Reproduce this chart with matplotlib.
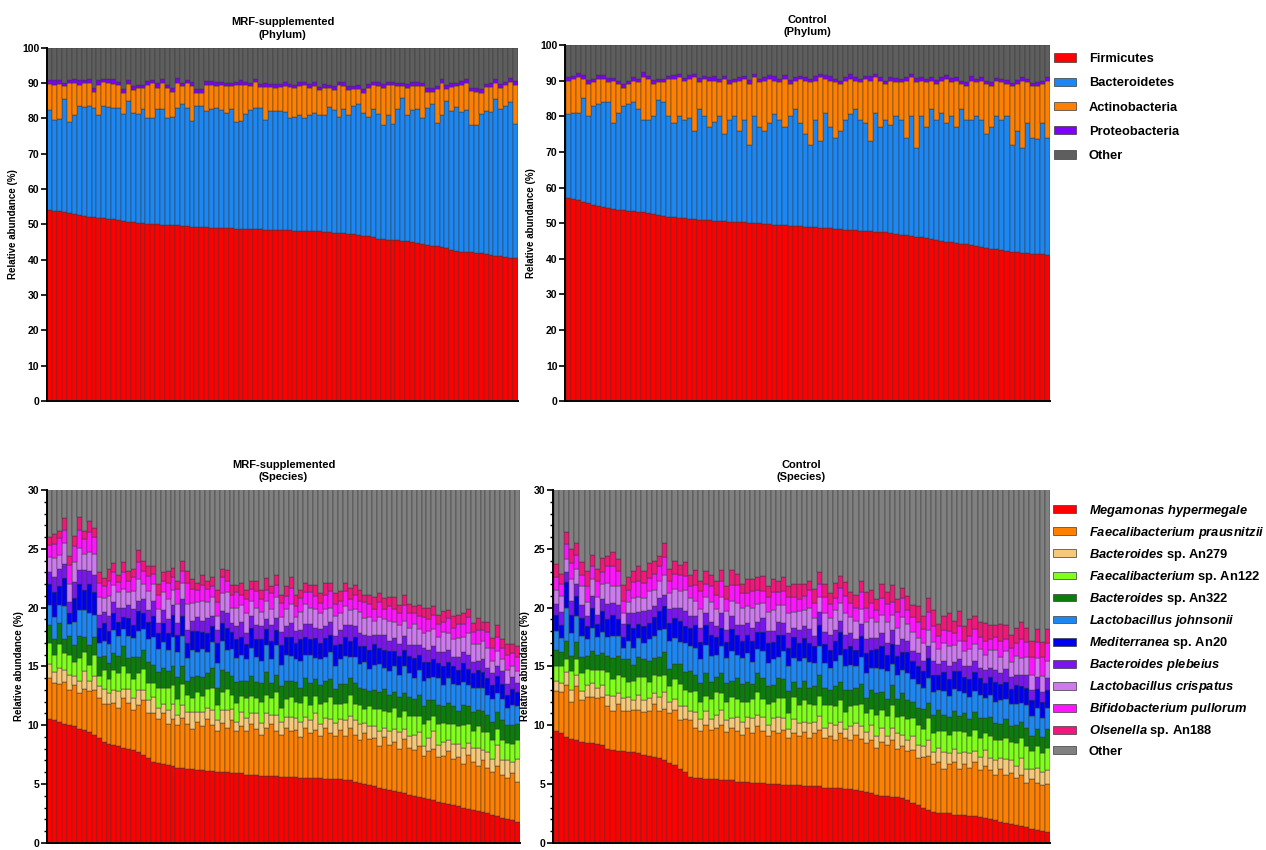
import numpy as np
import matplotlib.pyplot as plt
from matplotlib.patches import Patch
from matplotlib.ticker import MultipleLocator

plt.rcParams['font.family'] = ['Liberation Sans', 'DejaVu Sans']
plt.rcParams['font.weight'] = 'bold'
plt.rcParams['mathtext.fontset'] = 'custom'
plt.rcParams['mathtext.it'] = 'Liberation Sans:italic:bold'
plt.rcParams['mathtext.rm'] = 'Liberation Sans:bold'
plt.rcParams['mathtext.bf'] = 'Liberation Sans:bold'

PHYLA = ['Firmicutes', 'Bacteroidetes', 'Actinobacteria', 'Proteobacteria', 'Other']
PHYLUM_COLORS = ['#FF0000', '#1C86F2', '#FF8000', '#8000FF', '#5E5E5E']

SPECIES = [r'$\mathit{Megamonas\ hypermegale}$',
           r'$\mathit{Faecalibacterium\ prausnitzii}$',
           r'$\mathit{Bacteroides}$ sp. An279',
           r'$\mathit{Faecalibacterium}$ sp. An122',
           r'$\mathit{Bacteroides}$ sp. An322',
           r'$\mathit{Lactobacillus\ johnsonii}$',
           r'$\mathit{Mediterranea}$ sp. An20',
           r'$\mathit{Bacteroides\ plebeius}$',
           r'$\mathit{Lactobacillus\ crispatus}$',
           r'$\mathit{Bifidobacterium\ pullorum}$',
           r'$\mathit{Olsenella}$ sp. An188',
           'Other']
SPECIES_COLORS = ['#FF0000', '#FF8000', '#F5C87A', '#80FF1A', '#0A7D0A', '#1C86F2',
                  '#0000F0', '#7A14F0', '#CC7AEE', '#FF14FF', '#F0187A', '#808080']

# ---- phylum level, MRF-supplemented ----
MRF_FIRMICUTES = [
    54.0, 53.9, 53.7, 53.5, 53.2, 52.9, 52.6, 52.4, 52.2, 52.0,
    51.9, 51.7, 51.6, 51.4, 51.2, 51.0, 50.8, 50.6, 50.5, 50.4,
    50.2, 50.1, 50.0, 49.9, 49.8, 49.7, 49.7, 49.6, 49.5, 49.4,
    49.3, 49.3, 49.2, 49.1, 49.0, 49.0, 48.9, 48.9, 48.8, 48.8,
    48.7, 48.7, 48.6, 48.6, 48.5, 48.5, 48.4, 48.4, 48.3, 48.3,
    48.2, 48.2, 48.1, 48.1, 48.0, 48.0, 47.9, 47.8, 47.7, 47.6,
    47.5, 47.4, 47.2, 47.0, 46.8, 46.6, 46.3, 46.0, 45.8, 45.7,
    45.6, 45.5, 45.4, 45.2, 45.0, 44.8, 44.5, 44.2, 44.0, 43.8,
    43.5, 43.2, 42.9, 42.6, 42.3, 42.2, 42.1, 42.0, 41.8, 41.6,
    41.4, 41.2, 41.0, 40.8, 40.6, 40.4]
MRF_BACTEROIDETES = [
    28.3, 25.6, 26.1, 32.0, 25.8, 28.1, 30.9, 30.9, 31.3, 31.0,
    29.1, 31.8, 31.7, 31.6, 31.8, 30.3, 34.2, 30.9, 30.8, 32.1,
    29.8, 29.9, 32.5, 32.6, 30.2, 30.6, 33.3, 34.4, 33.5, 29.9,
    34.2, 34.2, 32.8, 33.4, 34.0, 33.3, 32.6, 33.6, 30.2, 30.5,
    32.6, 33.6, 34.2, 34.4, 31.0, 33.5, 33.6, 33.6, 33.5, 31.7,
    32.3, 32.8, 31.9, 32.9, 33.5, 33.0, 33.1, 35.5, 34.6, 32.7,
    35.0, 33.4, 36.3, 37.0, 34.7, 33.9, 36.2, 35.3, 32.2, 35.3,
    32.9, 37.0, 40.4, 35.8, 37.3, 37.9, 35.7, 38.6, 40.0, 35.0,
    37.5, 41.8, 39.1, 40.6, 39.5, 40.1, 36.1, 36.2, 39.4, 40.6,
    40.4, 44.3, 41.5, 42.7, 43.9, 38.1]
MRF_ACTINOBACTERIA = [
    7.5, 10.0, 10.0, 3.5, 11.0, 9.0, 6.0, 6.7, 6.5, 4.5,
    8.5, 6.7, 6.7, 6.8, 6.5, 6.0, 4.8, 6.5, 7.2, 6.0,
    9.5, 10.0, 6.2, 7.5, 8.5, 7.2, 7.0, 5.0, 7.0, 9.9,
    3.8, 3.8, 7.5, 7.0, 6.2, 7.2, 7.5, 6.5, 10.5, 10.2,
    8.0, 6.7, 7.5, 5.8, 9.3, 6.8, 6.5, 6.8, 7.2, 8.8,
    8.0, 8.0, 9.5, 7.5, 7.7, 7.0, 7.5, 5.2, 5.7, 9.2,
    6.7, 7.2, 4.7, 4.2, 5.7, 8.0, 6.8, 7.9, 10.5, 8.5,
    10.8, 6.5, 3.2, 7.5, 6.9, 6.5, 9.0, 4.7, 3.5, 9.5,
    9.0, 3.3, 6.8, 5.8, 7.7, 7.7, 9.6, 9.3, 6.0, 6.6,
    7.0, 4.5, 6.0, 6.0, 5.7, 11.0]
MRF_PROTEOBACTERIA = [
    1.0, 1.2, 0.9, 1.1, 0.8, 1.0, 1.2, 0.9, 1.1, 1.0,
    1.3, 0.9, 1.0, 1.2, 0.8, 1.1, 1.0, 1.2, 0.9, 1.0,
    1.1, 0.8, 1.2, 1.0, 0.9, 1.1, 1.3, 1.0, 0.8, 1.2,
    1.0, 0.9, 1.1, 1.0, 1.2, 0.8, 1.0, 1.1, 0.9, 1.2,
    1.0, 1.1, 0.8, 1.0, 1.2, 0.9, 1.1, 1.0, 1.3, 0.9,
    1.0, 1.2, 0.8, 1.1, 1.0, 0.9, 1.2, 1.0, 1.1, 0.8,
    1.0, 1.2, 0.9, 1.1, 1.0, 1.3, 0.9, 1.0, 1.2, 0.8,
    1.1, 1.0, 0.9, 1.2, 1.0, 1.1, 0.8, 1.0, 1.2, 0.9,
    1.1, 1.0, 1.3, 0.9, 1.0, 1.2, 0.8, 1.1, 1.0, 0.9,
    1.2, 1.0, 1.1, 0.9, 1.2, 1.0]

# ---- phylum level, control ----
CTRL_FIRMICUTES = [
    57.0, 56.8, 56.5, 56.0, 55.6, 55.2, 54.8, 54.5, 54.2, 54.0,
    53.8, 53.6, 53.5, 53.3, 53.1, 53.0, 52.8, 52.5, 52.2, 52.0,
    51.8, 51.6, 51.5, 51.3, 51.2, 51.1, 51.0, 50.9, 50.8, 50.7,
    50.6, 50.5, 50.4, 50.3, 50.3, 50.2, 50.1, 50.0, 49.9, 49.8,
    49.7, 49.6, 49.5, 49.4, 49.3, 49.2, 49.1, 49.0, 48.9, 48.8,
    48.7, 48.6, 48.5, 48.4, 48.3, 48.2, 48.1, 48.0, 47.9, 47.8,
    47.7, 47.6, 47.5, 47.4, 47.2, 47.0, 46.8, 46.6, 46.4, 46.2,
    46.0, 45.8, 45.6, 45.3, 45.0, 44.8, 44.6, 44.4, 44.2, 44.0,
    43.8, 43.5, 43.2, 43.0, 42.8, 42.6, 42.4, 42.2, 42.0, 41.8,
    41.6, 41.5, 41.4, 41.3, 41.2, 41.0]
CTRL_BACTEROIDETES = [
    23.5, 24.2, 24.5, 29.0, 24.4, 27.8, 28.7, 29.5, 29.8, 24.0,
    27.2, 29.4, 30.0, 30.7, 28.9, 26.0, 26.2, 27.5, 32.3, 32.0,
    28.2, 26.4, 28.5, 27.7, 28.3, 24.9, 31.0, 29.1, 26.2, 27.8,
    29.4, 24.5, 28.6, 29.7, 25.7, 28.8, 21.9, 30.0, 27.1, 26.2,
    28.3, 30.9, 29.5, 27.6, 30.7, 32.8, 28.9, 26.0, 23.1, 30.2,
    24.3, 32.4, 28.5, 25.6, 27.7, 30.8, 32.4, 34.0, 31.1, 30.2,
    25.3, 33.4, 29.5, 31.6, 30.3, 33.0, 32.2, 27.4, 33.6, 24.8,
    34.0, 31.2, 36.4, 33.7, 36.0, 33.2, 35.4, 32.6, 37.8, 35.0,
    35.2, 36.5, 35.8, 32.0, 34.2, 37.4, 36.6, 37.8, 30.0, 34.2,
    29.4, 36.5, 32.6, 32.2, 36.8, 33.0]
CTRL_ACTINOBACTERIA = [
    9.5, 9.5, 10.0, 5.5, 9.0, 6.5, 7.0, 6.5, 5.5, 12.0,
    8.0, 5.0, 5.5, 6.0, 7.5, 12.0, 11.5, 9.0, 5.0, 5.5,
    10.5, 12.5, 11.0, 11.0, 11.0, 15.0, 7.5, 10.5, 13.0, 11.5,
    9.5, 15.5, 10.0, 9.5, 14.0, 11.5, 17.0, 11.0, 12.5, 14.0,
    12.5, 9.5, 10.5, 13.5, 9.0, 8.0, 12.5, 15.0, 17.5, 11.0,
    18.0, 9.5, 13.0, 15.5, 13.0, 11.0, 10.0, 8.0, 10.5, 12.5,
    17.0, 10.0, 13.0, 10.0, 12.5, 9.5, 10.5, 16.0, 11.0, 18.5,
    10.0, 12.5, 8.0, 10.0, 9.0, 12.5, 9.5, 13.0, 7.0, 9.5,
    11.0, 9.5, 11.0, 14.0, 11.5, 10.0, 10.5, 9.0, 16.5, 13.0,
    19.0, 11.5, 14.5, 15.0, 11.0, 16.0]
CTRL_PROTEOBACTERIA = [
    1.1, 0.9, 1.2, 1.0, 1.3, 0.9, 1.1, 1.0, 1.2, 0.8,
    1.0, 1.2, 0.9, 1.1, 1.0, 1.3, 0.9, 1.2, 1.0, 1.1,
    0.9, 1.2, 1.0, 0.8, 1.1, 1.0, 1.2, 0.9, 1.1, 1.3,
    1.0, 0.9, 1.2, 1.0, 1.1, 0.8, 1.2, 1.0, 0.9, 1.1,
    1.0, 1.2, 0.9, 1.1, 1.3, 1.0, 0.8, 1.1, 1.0, 1.2,
    0.9, 1.0, 1.2, 1.1, 0.9, 1.0, 1.3, 1.0, 1.1, 0.9,
    1.2, 1.0, 1.1, 0.8, 1.0, 1.2, 0.9, 1.1, 1.0, 1.2,
    0.9, 1.1, 1.0, 1.3, 0.9, 1.0, 1.2, 1.1, 0.9, 1.0,
    1.2, 0.9, 1.1, 1.0, 1.2, 0.8, 1.0, 1.1, 0.9, 1.2,
    1.0, 1.1, 0.9, 1.2, 1.0, 1.1]

# ---- species level, MRF-supplemented ----
MRF_MEGAMONAS = [
    10.5, 10.4, 10.3, 10.1, 10.0, 9.9, 9.7, 9.6, 9.4, 9.2,
    8.9, 8.6, 8.4, 8.3, 8.2, 8.1, 8.0, 7.9, 7.7, 7.5,
    7.2, 6.9, 6.8, 6.7, 6.6, 6.5, 6.4, 6.4, 6.3, 6.3,
    6.2, 6.2, 6.1, 6.1, 6.0, 6.0, 6.0, 5.9, 5.9, 5.9,
    5.8, 5.8, 5.8, 5.7, 5.7, 5.7, 5.7, 5.6, 5.6, 5.6,
    5.6, 5.5, 5.5, 5.5, 5.5, 5.5, 5.4, 5.4, 5.4, 5.4,
    5.3, 5.3, 5.2, 5.1, 5.0, 4.9, 4.8, 4.7, 4.6, 4.5,
    4.4, 4.3, 4.2, 4.1, 4.0, 3.9, 3.8, 3.7, 3.6, 3.5,
    3.4, 3.3, 3.2, 3.1, 3.0, 2.9, 2.8, 2.7, 2.6, 2.5,
    2.4, 2.3, 2.1, 2.0, 1.9, 1.8]
MRF_F_PRAUSNITZII = [
    3.5, 3.2, 3.2, 3.6, 3.0, 3.5, 3.0, 3.5, 3.5, 3.8,
    3.4, 3.2, 3.4, 3.6, 3.3, 4.2, 3.9, 3.4, 4.0, 4.6,
    3.8, 4.1, 3.7, 4.3, 3.5, 4.0, 3.6, 4.2, 3.8, 3.4,
    4.1, 3.7, 4.4, 3.9, 3.5, 4.2, 3.8, 4.5, 3.6, 4.0,
    3.7, 4.3, 3.9, 3.5, 4.1, 4.4, 3.8, 3.6, 4.2, 3.9,
    4.0, 3.5, 4.3, 3.8, 4.1, 3.6, 4.4, 3.9, 3.7, 4.2,
    3.8, 4.5, 4.0, 3.6, 4.3, 3.9, 4.1, 3.5, 4.4, 3.8,
    4.2, 3.7, 4.6, 4.0, 3.9, 4.3, 3.6, 4.1, 4.4, 3.8,
    4.0, 4.5, 3.9, 4.2, 3.7, 4.6, 4.1, 3.8, 4.4, 3.9,
    3.6, 4.2, 3.7, 3.5, 4.0, 3.4]
MRF_B_AN279 = [
    1.2, 0.9, 1.4, 1.0, 1.3, 0.8, 1.1, 1.5, 0.9, 1.2,
    1.0, 1.3, 0.9, 1.1, 1.4, 0.8, 1.2, 1.0, 1.3, 0.9,
    1.1, 1.4, 1.0, 0.8, 1.2, 1.3, 0.9, 1.1, 1.0, 1.4,
    0.8, 1.2, 1.0, 1.3, 0.9, 1.1, 1.5, 1.0, 0.8, 1.2,
    1.1, 0.9, 1.3, 1.0, 1.2, 0.8, 1.4, 1.1, 0.9, 1.2,
    1.0, 1.3, 0.9, 1.1, 1.4, 1.0, 0.8, 1.2, 1.1, 0.9,
    1.3, 1.0, 1.2, 1.4, 0.9, 1.1, 1.0, 1.3, 0.8, 1.2,
    1.1, 1.4, 0.9, 1.0, 1.3, 1.2, 0.8, 1.1, 1.5, 1.0,
    1.2, 0.9, 1.3, 1.1, 1.4, 1.0, 1.2, 1.6, 0.9, 1.3,
    1.1, 1.8, 1.2, 1.5, 1.0, 1.9]
MRF_F_AN122 = [
    1.8, 1.5, 2.0, 1.4, 1.7, 1.2, 1.9, 1.6, 1.3, 1.8,
    0.9, 1.6, 1.2, 1.7, 1.5, 1.9, 1.3, 1.6, 1.4, 1.8,
    1.5, 1.2, 1.7, 1.4, 1.9, 1.6, 1.3, 1.8, 1.5, 1.2,
    1.7, 1.4, 1.6, 1.9, 1.3, 1.5, 1.8, 1.2, 1.6, 1.4,
    1.7, 1.5, 1.3, 1.8, 1.6, 1.4, 1.9, 1.2, 1.5, 1.7,
    1.4, 1.6, 1.8, 1.3, 1.5, 1.7, 1.4, 1.9, 1.6, 1.3,
    1.5, 1.8, 1.4, 1.6, 1.2, 1.7, 1.5, 1.9, 1.4, 1.6,
    1.8, 1.3, 1.5, 1.7, 1.6, 1.4, 1.9, 1.5, 1.3, 1.8,
    1.6, 1.4, 1.7, 1.5, 1.9, 1.6, 1.4, 1.8, 1.5, 1.7,
    1.6, 1.4, 1.7, 1.5, 1.5, 1.6]
MRF_B_AN322 = [
    1.5, 1.3, 1.8, 1.2, 1.6, 1.4, 1.9, 1.3, 1.7, 1.5,
    1.6, 1.2, 1.4, 1.4, 1.5, 1.7, 1.3, 1.9, 1.4, 1.6,
    1.8, 1.5, 1.3, 1.7, 1.4, 1.6, 1.9, 1.5, 1.2, 1.8,
    1.4, 1.6, 1.3, 1.7, 1.5, 1.9, 1.4, 1.6, 1.8, 1.3,
    1.5, 1.7, 1.4, 1.6, 1.9, 1.3, 1.5, 1.8, 1.6, 1.4,
    1.7, 1.3, 1.5, 1.9, 1.4, 1.6, 1.8, 1.5, 1.3, 1.7,
    1.6, 1.4, 1.8, 1.5, 1.7, 1.3, 1.6, 1.4, 1.9, 1.5,
    1.3, 1.7, 1.5, 1.6, 1.4, 1.8, 1.5, 1.7, 1.3, 1.6,
    1.4, 1.8, 1.5, 1.3, 1.7, 1.5, 1.6, 1.4, 1.8, 1.5,
    1.6, 1.4, 1.7, 1.5, 1.6, 1.4]
MRF_L_JOHNSONII = [
    1.7, 1.9, 1.5, 2.8, 1.0, 2.0, 2.2, 2.3, 2.7, 1.9,
    1.2, 1.3, 1.6, 2.0, 1.7, 1.5, 1.9, 1.6, 2.2, 1.8,
    1.9, 2.4, 2.0, 2.2, 1.8, 2.5, 2.1, 2.6, 1.9, 2.3,
    2.0, 2.4, 1.8, 2.2, 2.1, 2.5, 1.9, 2.3, 2.0, 2.2,
    1.8, 2.4, 2.1, 1.9, 2.3, 2.0, 2.5, 1.8, 2.2, 2.1,
    1.9, 2.3, 2.0, 2.4, 1.8, 2.2, 2.0, 2.3, 1.9, 2.1,
    2.4, 1.8, 2.2, 2.0, 2.3, 1.9, 2.1, 2.4, 1.8, 2.0,
    2.2, 1.9, 2.3, 2.0, 1.8, 2.1, 2.2, 1.9, 2.0, 2.3,
    1.8, 2.1, 1.9, 2.2, 2.0, 1.8, 2.1, 1.9, 2.0, 1.7,
    1.9, 1.6, 1.8, 1.5, 1.7, 1.5]
MRF_MEDITERRANEA = [
    1.8, 2.1, 1.6, 2.4, 0.9, 2.0, 2.2, 1.7, 2.5, 1.9,
    1.3, 1.5, 1.1, 1.4, 1.2, 1.0, 1.5, 1.1, 1.7, 1.3,
    1.5, 1.8, 1.3, 1.6, 1.4, 1.9, 1.5, 1.7, 1.3, 1.6,
    1.8, 1.4, 1.6, 1.3, 1.7, 1.5, 1.9, 1.4, 1.6, 1.5,
    1.3, 1.7, 1.5, 1.8, 1.4, 1.6, 1.3, 1.7, 1.5, 1.6,
    1.4, 1.8, 1.5, 1.3, 1.7, 1.4, 1.6, 1.5, 1.8, 1.3,
    1.6, 1.4, 1.7, 1.5, 1.3, 1.6, 1.8, 1.4, 1.5, 1.7,
    1.3, 1.6, 1.4, 1.5, 1.7, 1.3, 1.6, 1.4, 1.5, 1.3,
    1.6, 1.4, 1.5, 1.3, 1.6, 1.4, 1.2, 1.5, 1.3, 1.4,
    1.2, 1.5, 1.3, 1.1, 1.4, 1.2]
MRF_B_PLEBEIUS = [
    1.0, 1.3, 1.5, 1.2, 1.0, 1.4, 1.2, 1.7, 1.1, 1.5,
    1.1, 0.9, 1.3, 1.0, 1.2, 0.8, 1.1, 1.4, 0.9, 1.2,
    1.0, 1.3, 0.9, 1.1, 1.2, 0.8, 1.0, 1.4, 1.1, 0.9,
    1.2, 1.0, 1.3, 0.9, 1.1, 1.0, 1.2, 0.8, 1.1, 1.3,
    0.9, 1.0, 1.2, 1.1, 0.8, 1.3, 1.0, 1.1, 0.9, 1.2,
    1.0, 0.8, 1.1, 1.3, 0.9, 1.2, 1.0, 1.1, 0.8, 1.2,
    1.0, 1.3, 0.9, 1.1, 1.0, 1.2, 0.8, 1.1, 1.3, 0.9,
    1.1, 1.0, 1.2, 0.9, 1.1, 0.8, 1.2, 1.0, 1.1, 0.9,
    1.2, 1.0, 0.8, 1.1, 0.9, 1.2, 1.0, 0.8, 1.1, 0.9,
    1.0, 0.8, 1.1, 0.9, 1.0, 0.8]
MRF_L_CRISPATUS = [
    1.3, 1.6, 1.2, 1.8, 1.5, 1.7, 1.9, 1.4, 1.6, 1.8,
    1.5, 1.2, 1.7, 1.4, 1.3, 1.6, 1.1, 1.5, 1.8, 1.3,
    1.6, 1.4, 1.2, 1.5, 1.7, 1.3, 1.6, 1.4, 2.2, 1.5,
    1.3, 1.7, 1.4, 1.6, 1.2, 1.5, 1.8, 1.3, 1.6, 1.4,
    1.7, 1.3, 1.5, 1.2, 1.6, 1.4, 1.8, 1.3, 1.5, 1.6,
    1.2, 1.5, 1.7, 1.4, 1.6, 1.3, 1.5, 1.2, 1.7, 1.4,
    1.6, 1.3, 1.5, 1.8, 1.4, 1.6, 1.2, 1.5, 1.3, 1.7,
    1.4, 1.6, 1.3, 1.5, 1.8, 1.4, 1.2, 1.6, 1.5, 1.3,
    1.7, 1.4, 1.5, 1.6, 1.3, 1.8, 1.5, 1.4, 1.6, 1.7,
    1.1, 1.3, 1.0, 1.2, 0.9, 1.0]
MRF_B_PULLORUM = [
    1.0, 1.2, 1.4, 1.1, 1.6, 1.3, 1.5, 1.2, 1.7, 1.4,
    1.2, 1.0, 1.3, 1.1, 0.9, 1.4, 1.0, 1.2, 1.5, 1.1,
    1.3, 0.9, 1.2, 1.0, 1.4, 1.1, 1.3, 1.0, 1.8, 1.2,
    1.0, 1.3, 1.1, 0.9, 1.2, 1.4, 1.0, 1.1, 1.3, 0.9,
    1.2, 1.0, 1.4, 1.1, 0.9, 1.3, 1.0, 1.2, 1.1, 1.4,
    0.9, 1.2, 1.0, 1.3, 1.1, 0.9, 1.2, 1.4, 1.0, 1.1,
    1.3, 0.9, 1.2, 1.0, 1.4, 1.1, 1.0, 1.3, 0.9, 1.2,
    1.1, 1.0, 1.3, 1.2, 0.9, 1.1, 1.4, 1.0, 1.2, 1.1,
    0.9, 1.3, 1.0, 1.2, 1.1, 1.4, 1.0, 1.2, 0.9, 1.3,
    1.1, 1.2, 1.0, 1.3, 1.1, 1.2]
MRF_OLSENELLA = [
    0.7, 0.9, 0.6, 1.0, 0.8, 0.9, 1.1, 0.7, 1.0, 0.8,
    0.9, 0.7, 1.0, 0.8, 0.6, 0.9, 0.8, 0.7, 1.0, 0.9,
    0.8, 0.6, 0.9, 0.7, 1.0, 0.8, 0.7, 0.9, 1.0, 0.8,
    0.6, 0.9, 0.7, 0.8, 1.0, 0.7, 0.9, 0.8, 0.6, 1.0,
    0.8, 0.7, 0.9, 0.8, 1.0, 0.6, 0.9, 0.7, 0.8, 0.9,
    1.0, 0.7, 0.8, 0.6, 0.9, 0.8, 1.0, 0.7, 0.9, 0.8,
    0.7, 1.0, 0.8, 0.9, 0.6, 0.8, 1.0, 0.7, 0.9, 0.8,
    1.0, 0.7, 0.9, 0.8, 0.6, 0.9, 0.8, 1.0, 0.7, 0.8,
    0.9, 0.7, 1.0, 0.8, 0.9, 0.7, 0.8, 1.0, 0.7, 0.9,
    0.8, 1.0, 0.7, 0.9, 0.8, 0.9]

# ---- species level, control ----
CTRL_MEGAMONAS = [
    9.5, 9.3, 9.0, 8.8, 8.7, 8.6, 8.5, 8.5, 8.4, 8.3,
    8.0, 7.9, 7.8, 7.8, 7.7, 7.7, 7.6, 7.5, 7.4, 7.3,
    7.2, 7.0, 6.8, 6.6, 6.3, 6.0, 5.6, 5.5, 5.5, 5.4,
    5.4, 5.4, 5.3, 5.3, 5.3, 5.2, 5.2, 5.2, 5.1, 5.1,
    5.1, 5.0, 5.0, 5.0, 4.9, 4.9, 4.9, 4.9, 4.8, 4.8,
    4.8, 4.8, 4.7, 4.7, 4.7, 4.7, 4.6, 4.6, 4.5, 4.4,
    4.3, 4.2, 4.1, 4.0, 4.0, 3.9, 3.9, 3.8, 3.6, 3.4,
    3.2, 3.0, 2.8, 2.6, 2.5, 2.5, 2.5, 2.4, 2.4, 2.4,
    2.3, 2.3, 2.2, 2.1, 2.0, 1.9, 1.8, 1.7, 1.6, 1.5,
    1.4, 1.3, 1.2, 1.1, 1.0, 0.9]
CTRL_F_PRAUSNITZII = [
    3.4, 3.5, 4.4, 3.2, 4.6, 3.5, 3.9, 3.9, 3.9, 4.1,
    3.6, 3.3, 4.0, 3.4, 3.5, 3.6, 3.7, 3.6, 3.8, 4.5,
    4.0, 4.4, 4.2, 4.7, 4.1, 4.5, 4.8, 4.3, 4.0, 4.6,
    4.2, 4.4, 4.7, 4.1, 4.5, 4.3, 4.0, 4.6, 4.2, 4.8,
    4.4, 4.1, 4.5, 4.3, 4.7, 4.0, 4.4, 4.2, 4.6, 4.1,
    4.5, 4.8, 4.2, 4.4, 4.0, 4.6, 4.3, 4.1, 4.7, 4.4,
    4.2, 4.5, 4.0, 4.6, 4.3, 4.8, 4.1, 4.4, 4.2, 4.5,
    4.0, 4.3, 4.6, 4.1, 4.4, 3.8, 4.2, 4.5, 3.9, 4.3,
    4.1, 4.6, 4.0, 4.4, 4.2, 3.9, 4.5, 4.1, 4.3, 4.0,
    4.4, 3.8, 4.2, 4.0, 3.9, 4.1]
CTRL_B_AN279 = [
    0.9, 0.8, 1.1, 1.0, 1.0, 0.8, 1.0, 1.2, 0.9, 1.0,
    1.0, 1.3, 0.9, 1.1, 1.2, 0.8, 1.3, 1.0, 1.1, 0.9,
    1.2, 1.4, 1.0, 0.9, 1.2, 1.1, 0.8, 1.3, 1.0, 1.2,
    0.9, 1.1, 1.3, 1.0, 0.8, 1.2, 1.1, 0.9, 1.3, 1.0,
    1.2, 0.9, 1.1, 1.4, 1.0, 0.8, 1.2, 1.1, 0.9, 1.3,
    1.0, 1.2, 0.9, 1.1, 1.3, 1.0, 0.8, 1.2, 1.0, 1.1,
    0.9, 1.3, 1.0, 1.2, 0.8, 1.1, 1.3, 1.0, 0.9, 1.2,
    1.1, 0.9, 1.3, 1.0, 1.2, 1.4, 0.9, 1.1, 1.3, 1.0,
    1.2, 0.9, 1.1, 1.4, 1.0, 1.2, 0.9, 1.3, 1.1, 1.0,
    1.4, 1.2, 0.9, 1.3, 1.1, 1.2]
CTRL_F_AN122 = [
    1.2, 1.4, 1.1, 1.6, 1.3, 1.5, 1.4, 1.1, 1.5, 1.3,
    1.9, 1.4, 1.6, 1.8, 1.3, 1.7, 1.5, 2.0, 1.4, 1.6,
    1.8, 1.5, 1.3, 1.7, 1.9, 1.4, 1.6, 1.8, 1.5, 1.3,
    1.7, 1.9, 1.4, 1.6, 1.8, 1.5, 1.7, 1.3, 1.6, 1.9,
    1.5, 1.8, 1.4, 1.6, 1.7, 1.3, 1.9, 1.5, 1.8, 1.6,
    1.4, 1.7, 1.9, 1.5, 1.6, 1.8, 1.4, 1.7, 1.5, 1.9,
    1.6, 1.4, 1.8, 1.5, 1.7, 1.9, 1.4, 1.6, 1.8, 1.5,
    1.7, 1.5, 1.9, 1.6, 1.4, 1.8, 1.6, 1.5, 1.9, 1.7,
    1.5, 1.8, 1.6, 1.4, 1.9, 1.7, 1.5, 1.8, 1.6, 2.0,
    1.7, 1.9, 1.5, 1.8, 1.6, 1.9]
CTRL_B_AN322 = [
    1.4, 1.2, 1.6, 1.3, 1.5, 1.4, 1.1, 1.6, 1.3, 1.4,
    1.4, 1.8, 1.6, 1.5, 1.9, 1.3, 1.7, 1.5, 1.8, 1.4,
    1.6, 1.9, 1.5, 1.3, 1.7, 1.5, 1.8, 1.4, 1.6, 1.9,
    1.5, 1.3, 1.7, 1.6, 1.4, 1.8, 1.5, 1.7, 1.3, 1.6,
    1.8, 1.5, 1.4, 1.7, 1.6, 1.9, 1.3, 1.5, 1.7, 1.4,
    1.6, 1.8, 1.5, 1.3, 1.7, 1.6, 1.9, 1.4, 1.5, 1.7,
    1.3, 1.6, 1.8, 1.5, 1.4, 1.7, 1.5, 1.9, 1.6, 1.4,
    1.5, 1.7, 1.3, 1.6, 1.8, 1.4, 1.5, 1.7, 1.3, 1.6,
    1.4, 1.5, 1.7, 1.3, 1.6, 1.5, 1.4, 1.6, 1.3, 1.5,
    1.4, 1.6, 1.3, 1.5, 1.4, 1.6]
CTRL_L_JOHNSONII = [
    1.6, 1.2, 2.8, 1.9, 2.2, 1.8, 1.4, 2.0, 1.5, 1.8,
    1.6, 1.9, 1.7, 1.0, 1.6, 1.5, 1.6, 1.4, 1.8, 1.9,
    2.3, 2.0, 2.4, 2.2, 1.9, 2.5, 2.1, 2.3, 2.0, 2.4,
    2.2, 1.9, 2.3, 2.1, 2.5, 2.0, 2.2, 2.4, 1.9, 2.1,
    2.3, 2.0, 2.2, 1.8, 2.4, 2.1, 2.0, 2.3, 1.9, 2.2,
    2.0, 2.4, 2.1, 1.9, 2.2, 2.3, 2.0, 2.1, 1.8, 2.3,
    2.1, 1.9, 2.2, 2.0, 2.4, 1.8, 2.1, 2.0, 2.3, 1.9,
    2.0, 1.8, 2.1, 1.9, 1.7, 2.0, 1.8, 1.9, 2.1, 1.7,
    1.9, 1.8, 2.0, 1.7, 1.9, 1.8, 2.0, 1.7, 1.9, 1.8,
    1.6, 1.9, 1.7, 1.8, 1.6, 1.8]
CTRL_MEDITERRANEA = [
    1.4, 1.1, 2.2, 1.6, 1.7, 1.5, 1.1, 1.7, 1.1, 1.8,
    1.5, 1.8, 1.4, 0.9, 1.4, 1.7, 1.2, 1.4, 1.4, 1.6,
    1.6, 1.9, 1.5, 1.7, 1.8, 1.4, 1.6, 1.9, 1.5, 1.7,
    1.8, 1.5, 1.6, 1.4, 1.9, 1.7, 1.5, 1.6, 1.8, 1.4,
    1.6, 1.7, 1.5, 1.9, 1.4, 1.6, 1.8, 1.5, 1.7, 1.6,
    1.4, 1.8, 1.6, 1.5, 1.7, 1.9, 1.5, 1.6, 1.4, 1.8,
    1.7, 1.5, 1.6, 1.9, 1.4, 1.7, 1.6, 1.5, 1.8, 1.6,
    1.5, 1.4, 1.7, 1.5, 1.3, 1.6, 1.4, 1.5, 1.7, 1.4,
    1.5, 1.6, 1.4, 1.3, 1.5, 1.7, 1.4, 1.5, 1.3, 1.6,
    1.4, 1.5, 1.3, 1.6, 1.4, 1.5]
CTRL_B_PLEBEIUS = [
    0.9, 1.1, 0.8, 1.2, 1.0, 1.1, 0.9, 1.0, 0.8, 1.0,
    1.3, 1.0, 1.2, 1.1, 0.9, 1.2, 1.0, 1.3, 1.1, 0.9,
    1.1, 1.0, 1.2, 0.9, 1.1, 1.3, 1.0, 0.8, 1.2, 1.0,
    1.1, 0.9, 1.2, 1.0, 1.1, 0.8, 1.3, 1.0, 1.1, 0.9,
    1.2, 1.0, 0.9, 1.1, 1.0, 1.2, 0.8, 1.1, 1.0, 1.2,
    0.9, 1.1, 1.0, 1.3, 0.9, 1.0, 1.2, 1.1, 0.9, 1.0,
    1.2, 1.0, 0.9, 1.1, 1.0, 1.2, 0.9, 1.1, 1.0, 0.8,
    1.1, 0.9, 1.0, 1.2, 0.9, 1.0, 1.1, 0.8, 1.0, 0.9,
    1.1, 1.0, 0.9, 1.1, 0.8, 1.0, 0.9, 1.1, 1.0, 0.9,
    1.0, 1.1, 0.9, 1.0, 0.8, 1.0]
CTRL_L_CRISPATUS = [
    1.2, 1.4, 1.1, 1.8, 1.3, 1.6, 1.2, 1.4, 1.5, 1.3,
    1.8, 1.4, 1.6, 0.9, 1.0, 1.3, 1.3, 1.1, 1.6, 1.4,
    1.5, 1.7, 1.3, 1.6, 1.4, 1.8, 1.5, 1.3, 1.6, 1.4,
    1.7, 1.5, 1.4, 1.6, 1.3, 1.9, 1.5, 1.4, 1.7, 1.5,
    1.3, 1.6, 1.8, 1.4, 1.5, 1.7, 1.3, 1.6, 1.4, 1.8,
    1.5, 1.3, 1.6, 1.4, 1.7, 1.5, 1.8, 1.4, 1.6, 1.3,
    1.5, 1.7, 1.4, 1.6, 1.8, 1.3, 1.5, 1.9, 1.4, 1.6,
    1.3, 1.5, 1.4, 1.6, 1.3, 1.5, 1.7, 1.4, 1.6, 1.3,
    1.5, 1.4, 1.6, 1.3, 1.5, 1.7, 1.4, 1.5, 1.3, 1.6,
    1.4, 1.5, 1.3, 1.6, 1.4, 1.5]
CTRL_B_PULLORUM = [
    1.1, 1.0, 1.3, 1.4, 1.2, 1.0, 1.3, 1.1, 1.4, 1.0,
    1.4, 1.7, 1.3, 1.1, 1.0, 1.4, 1.4, 1.3, 1.1, 1.4,
    1.2, 1.5, 1.1, 1.3, 1.4, 1.2, 1.0, 1.3, 1.5, 1.1,
    1.3, 1.2, 1.4, 1.0, 1.3, 1.5, 1.2, 1.1, 1.4, 1.2,
    1.0, 1.3, 1.5, 1.1, 1.2, 1.4, 1.3, 1.0, 1.2, 1.5,
    1.3, 1.1, 1.4, 1.2, 1.0, 1.3, 1.5, 1.2, 1.1, 1.4,
    1.2, 1.3, 1.0, 1.4, 1.5, 1.1, 1.3, 1.6, 1.2, 1.3,
    1.4, 1.2, 1.5, 1.3, 1.1, 1.1, 1.3, 1.0, 1.2, 0.9,
    1.1, 1.3, 1.0, 1.2, 0.9, 1.1, 1.4, 1.0, 1.2, 1.1,
    1.6, 1.3, 1.5, 1.4, 1.6, 1.5]
CTRL_OLSENELLA = [
    1.1, 0.9, 1.0, 1.2, 1.0, 1.1, 1.3, 1.0, 1.0, 1.2,
    0.9, 1.2, 1.0, 1.3, 1.1, 0.9, 1.2, 1.0, 1.3, 1.1,
    0.9, 1.2, 1.0, 1.1, 0.8, 1.2, 1.0, 1.3, 0.9, 1.1,
    1.0, 1.2, 0.9, 1.1, 1.3, 1.0, 0.8, 1.2, 1.0, 1.1,
    1.3, 0.9, 1.1, 1.0, 1.2, 0.9, 1.1, 1.3, 1.0, 0.8,
    1.2, 1.0, 1.1, 0.9, 1.3, 1.0, 1.2, 0.9, 1.1, 1.0,
    1.3, 1.1, 0.9, 1.2, 1.0, 1.4, 1.1, 0.9, 1.2, 1.0,
    1.3, 1.1, 1.2, 1.4, 1.0, 1.2, 1.5, 1.1, 1.3, 1.2,
    1.4, 1.1, 1.3, 1.5, 1.2, 1.0, 1.4, 1.2, 1.1, 1.3,
    1.5, 1.2, 1.4, 1.1, 1.3, 1.2]

MRF_PHYLUM = [MRF_FIRMICUTES, MRF_BACTEROIDETES, MRF_ACTINOBACTERIA, MRF_PROTEOBACTERIA]
CTRL_PHYLUM = [CTRL_FIRMICUTES, CTRL_BACTEROIDETES, CTRL_ACTINOBACTERIA, CTRL_PROTEOBACTERIA]
MRF_SPECIES = [MRF_MEGAMONAS, MRF_F_PRAUSNITZII, MRF_B_AN279, MRF_F_AN122, MRF_B_AN322,
               MRF_L_JOHNSONII, MRF_MEDITERRANEA, MRF_B_PLEBEIUS, MRF_L_CRISPATUS,
               MRF_B_PULLORUM, MRF_OLSENELLA]
CTRL_SPECIES = [CTRL_MEGAMONAS, CTRL_F_PRAUSNITZII, CTRL_B_AN279, CTRL_F_AN122, CTRL_B_AN322,
                CTRL_L_JOHNSONII, CTRL_MEDITERRANEA, CTRL_B_PLEBEIUS, CTRL_L_CRISPATUS,
                CTRL_B_PULLORUM, CTRL_OLSENELLA]


def stacked(ax, layers, colors, ymax, title):
    n = len(layers[0])
    x = np.arange(n)
    bottom = np.zeros(n)
    for vals, c in zip(layers, colors[:-1]):
        vals = np.asarray(vals, dtype=float)
        ax.bar(x, vals, bottom=bottom, width=1.0, color=c,
               edgecolor='#3a3a3a', linewidth=0.35)
        bottom += vals
    # whatever is left up to 100 % goes to "Other"
    ax.bar(x, 100 - bottom, bottom=bottom, width=1.0, color=colors[-1],
           edgecolor='#3a3a3a', linewidth=0.35)

    ax.set_xlim(-0.6, n - 0.5)
    ax.set_ylim(0, ymax)
    ax.set_xticks([])
    for s in ['top', 'right']:
        ax.spines[s].set_visible(False)
    for s in ['left', 'bottom']:
        ax.spines[s].set_linewidth(1.4)
    ax.tick_params(axis='y', direction='out', length=4, width=1.2, labelsize=7.5, pad=1.5)
    ax.set_ylabel('Relative abundance (%)', fontsize=7, fontweight='bold', labelpad=3)
    ax.set_title(title, fontsize=8, fontweight='bold', pad=7, linespacing=1.3)


fig = plt.figure(figsize=(12.66, 8.5), dpi=100)

ax1 = fig.add_axes([0.0371, 0.528, 0.372, 0.416])
ax2 = fig.add_axes([0.4463, 0.528, 0.383, 0.419])
ax3 = fig.add_axes([0.0371, 0.0085, 0.3736, 0.415])
ax4 = fig.add_axes([0.4368, 0.0085, 0.3926, 0.415])

stacked(ax1, MRF_PHYLUM, PHYLUM_COLORS, 100, 'MRF-supplemented\n(Phylum)')
stacked(ax2, CTRL_PHYLUM, PHYLUM_COLORS, 100, 'Control\n(Phylum)')
stacked(ax3, MRF_SPECIES, SPECIES_COLORS, 30, 'MRF-supplemented\n(Species)')
stacked(ax4, CTRL_SPECIES, SPECIES_COLORS, 30, 'Control\n(Species)')

for ax in [ax1, ax2]:
    ax.yaxis.set_major_locator(MultipleLocator(10))
for ax in [ax3, ax4]:
    ax.yaxis.set_major_locator(MultipleLocator(5))
    ax.yaxis.set_minor_locator(MultipleLocator(1))
    ax.tick_params(axis='y', which='minor', length=2.5, width=1.0)

phylum_handles = [Patch(facecolor=c, edgecolor='#3a3a3a', linewidth=0.5, label=l)
                  for l, c in zip(PHYLA, PHYLUM_COLORS)]
fig.legend(handles=phylum_handles, loc='upper left', bbox_to_anchor=(0.8325, 0.9376),
           frameon=False, fontsize=9.3, handlelength=1.7, handleheight=0.6,
           handletextpad=1.0, labelspacing=0.95, borderaxespad=0, borderpad=0)

species_handles = [Patch(facecolor=c, edgecolor='#3a3a3a', linewidth=0.5, label=l)
                   for l, c in zip(SPECIES, SPECIES_COLORS)]
fig.legend(handles=species_handles, loc='upper left', bbox_to_anchor=(0.8315, 0.4085),
           frameon=False, fontsize=9.3, handlelength=1.8, handleheight=0.55,
           handletextpad=1.0, labelspacing=0.47, borderaxespad=0, borderpad=0)

fig.savefig('out.png', dpi=100)
